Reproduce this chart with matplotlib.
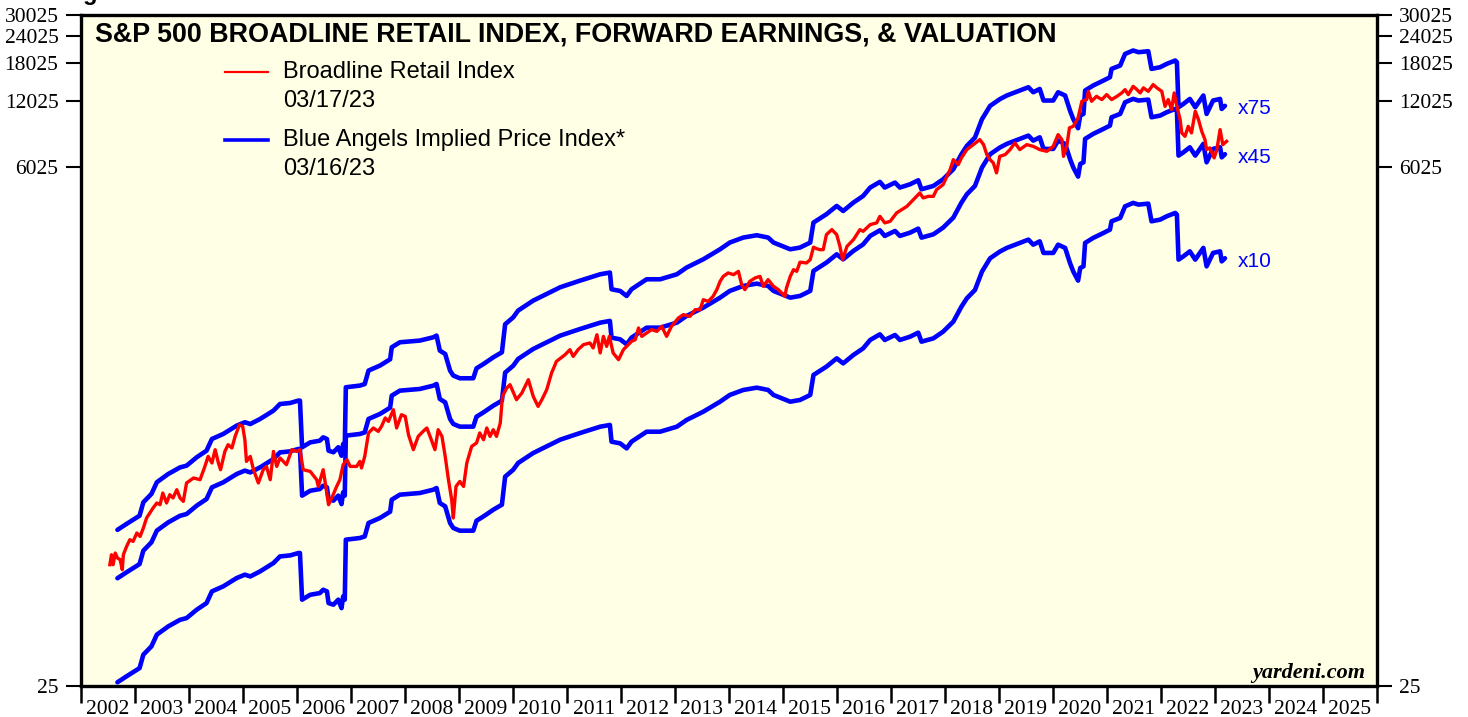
import matplotlib
matplotlib.use("Agg")
import matplotlib.pyplot as plt
from matplotlib.ticker import FixedLocator, NullLocator, FixedFormatter, NullFormatter

# ---------------- data ----------------
blue_dates = [2002.68, 2002.85, 2003.09, 2003.16, 2003.31, 2003.41, 2003.62, 2003.84, 2003.96, 2004.15,
              2004.33, 2004.43, 2004.64, 2004.89, 2005.04, 2005.14, 2005.32, 2005.57, 2005.69, 2005.88,
              2006.03, 2006.06, 2006.10, 2006.25, 2006.43, 2006.49, 2006.56, 2006.59, 2006.68, 2006.77,
              2006.83, 2006.86, 2006.89, 2006.91, 2007.17, 2007.26, 2007.33, 2007.54, 2007.64, 2007.73,
              2007.76, 2007.91, 2008.28, 2008.53, 2008.59, 2008.65, 2008.75, 2008.84, 2008.90, 2009.02,
              2009.27, 2009.33, 2009.46, 2009.64, 2009.80, 2009.86, 2010.01, 2010.10, 2010.38, 2010.63,
              2010.88, 2011.25, 2011.62, 2011.80, 2011.83, 2011.99, 2012.11, 2012.20, 2012.48, 2012.73,
              2013.04, 2013.22, 2013.53, 2013.84, 2014.02, 2014.27, 2014.52, 2014.73, 2014.83, 2015.14,
              2015.32, 2015.51, 2015.57, 2015.81, 2016.00, 2016.12, 2016.31, 2016.49, 2016.62, 2016.80,
              2016.89, 2017.08, 2017.17, 2017.36, 2017.51, 2017.57, 2017.79, 2017.97, 2018.16, 2018.31,
              2018.41, 2018.56, 2018.69, 2018.84, 2019.02, 2019.15, 2019.39, 2019.55, 2019.64, 2019.76,
              2019.83, 2020.01, 2020.10, 2020.23, 2020.32, 2020.38, 2020.47, 2020.51, 2020.57, 2020.60,
              2020.75, 2020.94, 2021.06, 2021.09, 2021.25, 2021.34, 2021.49, 2021.59, 2021.77, 2021.83,
              2021.99, 2022.11, 2022.27, 2022.30, 2022.33, 2022.42, 2022.54, 2022.64, 2022.79, 2022.85,
              2022.91, 2022.97, 2023.10, 2023.13, 2023.19]

# lowest blue line ("x10") as drawn on the chart
blue_low = [26.0, 27.7, 30.2, 34.8, 38.0, 43.0, 46.9, 50.3, 51.2, 56.0,
            60.0, 67.9, 71.6, 78.2, 81.0, 79.5, 83.8, 91.6, 98.2, 99.3,
            101.8, 101.8, 62.2, 65.5, 66.7, 69.1, 67.9, 60.0, 59.0, 62.2,
            56.9, 64.4, 62.2, 117.2, 119.3, 121.3, 139.8, 147.3, 152.6, 157.5,
            178.8, 188.5, 191.9, 198.7, 202.3, 172.7, 166.6, 139.8, 132.6, 128.9,
            128.9, 143.2, 149.9, 160.8, 169.6, 228.0, 245.4, 263.4, 292.7, 314.0,
            337.0, 361.6, 386.5, 393.6, 329.9, 324.1, 307.4, 329.9, 366.6, 366.6,
            386.5, 414.9, 452.9, 503.3, 540.3, 569.6, 583.6, 569.6, 540.3, 503.3,
            512.4, 540.3, 667.4, 728.7, 795.3, 754.3, 824.4, 883.8, 965.8, 1025,
            965.8, 1018, 965.8, 1000, 1043, 948.6, 982.2, 1054, 1172, 1373,
            1499, 1637, 1987, 2287, 2455, 2553, 2691, 2786, 2642, 2736,
            2421, 2421, 2642, 2553, 2178, 1993, 1807, 2066, 2101, 2691,
            2837, 2990, 3096, 3381, 3504, 3960, 4106, 4033, 4075, 3381,
            3442, 3564, 3694, 3628, 2256, 2335, 2462, 2256, 2553, 2101,
            2256, 2421, 2462, 2215, 2289]

# ratios between the blue lines as they appear on the chart (relative to lowest line)
blue_ratios = [5.0, 3.0, 1.0]
blue_labels = ["x75", "x45", "x10"]

red_dates = [2002.54, 2002.57, 2002.60, 2002.64, 2002.68, 2002.73, 2002.77, 2002.79, 2002.85, 2002.91,
             2002.97, 2003.04, 2003.10, 2003.16, 2003.22, 2003.28, 2003.34, 2003.41, 2003.47, 2003.52,
             2003.59, 2003.65, 2003.71, 2003.78, 2003.84, 2003.90, 2003.96, 2004.09, 2004.21, 2004.30,
             2004.36, 2004.43, 2004.49, 2004.55, 2004.59, 2004.67, 2004.73, 2004.80, 2004.86, 2004.94,
             2005.00, 2005.04, 2005.07, 2005.14, 2005.20, 2005.29, 2005.38, 2005.44, 2005.51, 2005.57,
             2005.63, 2005.69, 2005.81, 2005.91, 2006.00, 2006.06, 2006.12, 2006.25, 2006.37, 2006.40,
             2006.49, 2006.52, 2006.59, 2006.65, 2006.74, 2006.80, 2006.86, 2006.93, 2006.99, 2007.11,
             2007.17, 2007.20, 2007.26, 2007.33, 2007.42, 2007.51, 2007.57, 2007.64, 2007.70, 2007.79,
             2007.85, 2007.94, 2008.01, 2008.07, 2008.16, 2008.25, 2008.34, 2008.41, 2008.47, 2008.56,
             2008.62, 2008.69, 2008.75, 2008.81, 2008.87, 2008.90, 2008.95, 2009.02, 2009.09, 2009.15,
             2009.24, 2009.33, 2009.39, 2009.46, 2009.52, 2009.58, 2009.64, 2009.70, 2009.77, 2009.81,
             2009.89, 2009.95, 2010.07, 2010.17, 2010.29, 2010.38, 2010.47, 2010.54, 2010.63, 2010.72,
             2010.81, 2010.97, 2011.06, 2011.12, 2011.21, 2011.31, 2011.43, 2011.49, 2011.56, 2011.62,
             2011.68, 2011.74, 2011.79, 2011.86, 2011.96, 2012.05, 2012.11, 2012.20, 2012.27, 2012.33,
             2012.39, 2012.48, 2012.57, 2012.67, 2012.76, 2012.85, 2012.94, 2013.07, 2013.16, 2013.28,
             2013.38, 2013.47, 2013.53, 2013.62, 2013.71, 2013.78, 2013.84, 2013.90, 2013.99, 2014.09,
             2014.18, 2014.24, 2014.30, 2014.39, 2014.49, 2014.58, 2014.64, 2014.73, 2014.83, 2014.92,
             2014.98, 2015.04, 2015.07, 2015.14, 2015.20, 2015.26, 2015.32, 2015.44, 2015.51, 2015.57,
             2015.63, 2015.69, 2015.75, 2015.81, 2015.91, 2016.00, 2016.06, 2016.11, 2016.19, 2016.31,
             2016.43, 2016.49, 2016.62, 2016.74, 2016.80, 2016.89, 2016.99, 2017.11, 2017.30, 2017.42,
             2017.48, 2017.54, 2017.60, 2017.70, 2017.79, 2017.85, 2017.97, 2018.04, 2018.10, 2018.16,
             2018.25, 2018.31, 2018.41, 2018.53, 2018.65, 2018.72, 2018.78, 2018.84, 2018.90, 2018.96,
             2019.02, 2019.12, 2019.21, 2019.30, 2019.39, 2019.52, 2019.64, 2019.76, 2019.89, 2020.01,
             2020.10, 2020.17, 2020.20, 2020.26, 2020.31, 2020.38, 2020.47, 2020.54, 2020.63, 2020.66,
             2020.72, 2020.81, 2020.91, 2021.00, 2021.09, 2021.19, 2021.28, 2021.34, 2021.40, 2021.49,
             2021.56, 2021.62, 2021.68, 2021.77, 2021.86, 2021.93, 2022.02, 2022.08, 2022.14, 2022.20,
             2022.25, 2022.30, 2022.36, 2022.39, 2022.45, 2022.51, 2022.57, 2022.64, 2022.70, 2022.76,
             2022.82, 2022.85, 2022.91, 2022.99, 2023.04, 2023.10, 2023.15, 2023.22]

red_values = [90.0, 100, 90.0, 101.8, 96.6, 94.9, 85.4, 100, 109.1, 117.2,
              115.1, 125.8, 121.3, 132.6, 147.4, 155.4, 163.8, 172.7, 169.6, 191.9,
              172.7, 188.5, 182.1, 198.7, 182.1, 175.6, 213.3, 224.9, 220.8, 254.1,
              282.4, 263.5, 303.2, 263.5, 245.4, 297.7, 319.6, 308.7, 348.8, 394.7,
              387.6, 336.9, 267.9, 282.4, 245.4, 213.3, 245.4, 254.1, 220.8, 297.7,
              254.1, 277.8, 258.8, 303.2, 297.7, 303.2, 245.4, 241.0, 220.8, 205.7,
              245.4, 220.8, 169.6, 182.1, 205.7, 220.8, 258.8, 272.8, 254.1, 254.1,
              267.9, 250.0, 282.4, 361.8, 381.3, 367.8, 387.6, 423.8, 408.7, 462.5,
              381.3, 438.7, 430.8, 355.2, 303.2, 348.8, 367.8, 381.3, 348.8, 303.2,
              374.5, 348.8, 282.4, 220.8, 178.8, 147.4, 205.7, 216.8, 205.7, 263.5,
              313.9, 325.4, 361.8, 336.9, 381.3, 348.8, 374.5, 348.8, 402.1, 532.2,
              581.8, 602.3, 514.0, 551.9, 634.9, 532.2, 478.8, 514.0, 571.3, 681.6,
              770.3, 826.9, 871.8, 812.0, 871.8, 919.0, 935.9, 887.8, 1021, 842.2,
              1003, 902.5, 1003, 842.2, 784.4, 871.8, 902.5, 951.4, 968.8, 1096,
              1003, 1040, 1077, 1058, 1115, 1003, 1115, 1219, 1262, 1239,
              1330, 1330, 1478, 1451, 1530, 1643, 1793, 1890, 1960, 1925,
              1993, 1732, 1643, 1793, 1860, 1890, 1701, 1826, 1701, 1643,
              1587, 1530, 1673, 1890, 2029, 1993, 2196, 2178, 2255, 2573,
              2531, 2506, 2506, 2938, 3097, 2938, 2594, 2255, 2594, 2786,
              3097, 3041, 3265, 3325, 3563, 3325, 3380, 3695, 3959, 4251,
              4401, 4563, 4330, 4401, 4401, 4724, 4981, 5435, 5836, 6485,
              6152, 6606, 7209, 7598, 8011, 7598, 6838, 6485, 6265, 5638,
              6715, 6838, 7209, 7739, 7209, 7598, 7461, 7209, 7079, 7461,
              8446, 8011, 6715, 7461, 9068, 9218, 10076, 12008, 12228, 13339,
              12008, 12653, 12228, 12885, 12228, 12653, 13121, 13583, 12885, 14064,
              13583, 13121, 13835, 13339, 14322, 13835, 13339, 11385, 12228, 10997,
              13121, 11385, 9895, 8599, 8294, 9218, 8599, 10799, 9895, 8742,
              8011, 7209, 7340, 6606, 7209, 8902, 7598, 7867]

y_ticks = [25, 6025, 12025, 18025, 24025, 30025]
years = list(range(2002, 2026))

title = "S&P 500 BROADLINE RETAIL INDEX, FORWARD EARNINGS, & VALUATION"
red_label = "Broadline Retail Index"
red_date = "03/17/23"
blue_label = "Blue Angels Implied Price Index*"
blue_date = "03/16/23"

# ---------------- figure ----------------
W, H = 1468, 717
fig = plt.figure(figsize=(W / 100, H / 100), dpi=100)
ax_l, ax_r, ax_t, ax_b = 80.7, 1376.7, 14.5, 686.0
ax = fig.add_axes([ax_l / W, 1 - ax_b / H, (ax_r - ax_l) / W, (ax_b - ax_t) / H])
ax.set_facecolor("#FFFFE5")

BLUE = "#0000FF"
RED = "#FF0000"

for r in blue_ratios:
    ax.plot(blue_dates, [v * r for v in blue_low], color=BLUE, lw=3.3,
            solid_joinstyle="round", solid_capstyle="round", zorder=2)
ax.plot(red_dates, red_values, color=RED, lw=2.4, solid_joinstyle="round", zorder=3)

ax.set_yscale("log")
ax.set_ylim(25, 30025)
ax.set_xlim(2002, 2026)

serif = "Liberation Serif"
sans = "Liberation Sans"

ax.yaxis.set_major_locator(FixedLocator(y_ticks))
ax.yaxis.set_major_formatter(FixedFormatter([str(v) for v in y_ticks]))
ax.yaxis.set_minor_locator(NullLocator())
ax.yaxis.set_minor_formatter(NullFormatter())
ax.tick_params(axis="y", which="major", direction="out", length=11, width=1.5,
               left=True, right=True, labelleft=True, labelright=True,
               labelsize=15.5, pad=5)

ax.xaxis.set_major_locator(FixedLocator(years + [2026]))
ax.xaxis.set_major_formatter(NullFormatter())
ax.xaxis.set_minor_locator(FixedLocator([y + 0.5 for y in years]))
ax.xaxis.set_minor_formatter(FixedFormatter([str(y) for y in years]))
ax.tick_params(axis="x", which="major", direction="out", length=12, width=1.8)
ax.tick_params(axis="x", which="minor", length=0, labelsize=15.5, pad=10)

for lab in ax.get_xticklabels(which="both") + ax.get_yticklabels(which="both"):
    lab.set_fontfamily(serif)

for s in ax.spines.values():
    s.set_linewidth(2.4)
    s.set_color("black")

# title
ax.text(0.0111, 0.9695, title, transform=ax.transAxes, fontsize=19.4,
        fontweight="bold", family=sans, ha="left", va="center")

# legend (manual)
ax.plot([0.1113, 0.1445], [0.9144, 0.9144], transform=ax.transAxes, color=RED, lw=1.6)
ax.text(0.1561, 0.9144, red_label, transform=ax.transAxes, fontsize=17, family=sans, va="center")
ax.text(0.1561, 0.8712, red_date, transform=ax.transAxes, fontsize=17, family=sans, va="center")
ax.plot([0.1113, 0.1445], [0.8131, 0.8131], transform=ax.transAxes, color=BLUE, lw=2.6)
ax.text(0.1561, 0.8131, blue_label, transform=ax.transAxes, fontsize=17, family=sans, va="center")
ax.text(0.1561, 0.7700, blue_date, transform=ax.transAxes, fontsize=17, family=sans, va="center")

# multiple labels at the end of each blue line
for r, lab in zip(blue_ratios, blue_labels):
    ax.text(blue_dates[-1] + 0.24, blue_low[-1] * r * 0.97, lab, color=BLUE, fontsize=15,
            family=sans, ha="left", va="center")

ax.text(0.991, 0.0125, "yardeni.com", transform=ax.transAxes, fontsize=16,
        family=serif, fontweight="bold", fontstyle="italic", ha="right", va="baseline")

fig.text(62 / W, 1.0, "Figure 1.", fontsize=17, fontweight="bold", family=sans,
         ha="left", va="baseline")

fig.savefig("out.png", dpi=100, facecolor="white")
